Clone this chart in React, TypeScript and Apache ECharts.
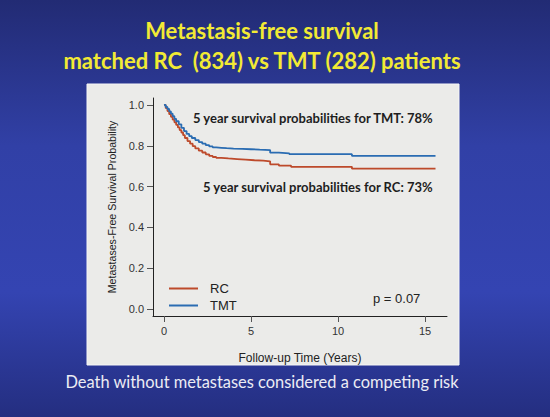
import React, { useEffect, useRef } from "react";
import * as echarts from "echarts";

const titleLines = ["Metastasis-free survival", "matched RC  (834) vs TMT (282) patients"];
const subtitle = "Death without metastases considered a competing risk";
const seriesNames = ["RC", "TMT"];
const xTicks = [0, 5, 10, 15];
const yTicks = [0, 0.2, 0.4, 0.6, 0.8, 1.0];

const tmtTimes = [0, 0.1, 0.2, 0.3, 0.4, 0.5, 0.6, 0.7, 0.85, 1.0, 1.15, 1.3, 1.45, 1.6, 1.8, 2.0, 2.2, 2.4, 2.6, 2.8, 3.0, 3.3, 3.6, 4.0, 4.5, 5.0, 5.5, 6.1, 6.6, 7.2, 10.8, 15.6];
const tmtSurv = [1.0, 0.99, 0.98, 0.968, 0.957, 0.945, 0.932, 0.92, 0.905, 0.888, 0.872, 0.858, 0.847, 0.838, 0.828, 0.818, 0.81, 0.803, 0.797, 0.792, 0.79, 0.788, 0.786, 0.785, 0.783, 0.781, 0.779, 0.766, 0.763, 0.759, 0.75, 0.75];

const rcTimes = [0, 0.1, 0.2, 0.3, 0.4, 0.5, 0.6, 0.7, 0.8, 0.9, 1.0, 1.1, 1.2, 1.35, 1.5, 1.65, 1.8, 2.0, 2.2, 2.4, 2.6, 2.8, 3.0, 3.3, 3.7, 4.2, 4.7, 5.2, 5.7, 6.1, 6.6, 7.3, 10.8, 15.6];
const rcSurv = [1.0, 0.985, 0.97, 0.955, 0.942, 0.928, 0.915, 0.902, 0.89, 0.877, 0.865, 0.852, 0.838, 0.823, 0.81, 0.798, 0.787, 0.776, 0.767, 0.758, 0.75, 0.745, 0.741, 0.738, 0.735, 0.732, 0.729, 0.727, 0.724, 0.709, 0.703, 0.697, 0.688, 0.688];

const annotations = [
  "5 year survival probabilities for TMT: 78%",
  "5 year survival probabilities for RC: 73%",
  "p = 0.07",
];

export default function App() {
  const ref = useRef<HTMLDivElement>(null);
  useEffect(() => {
    document.body.style.margin = "0";
    const chart = echarts.init(ref.current!, null, { renderer: "svg" });
    const rc = rcTimes.map((t, i) => [t, rcSurv[i]]);
    const tmt = tmtTimes.map((t, i) => [t, tmtSurv[i]]);
    const calibri = "Lato, 'Open Sans', sans-serif";
    const arial = "'Liberation Sans', Arial, sans-serif";
    chart.setOption({
      animation: false,
      backgroundColor: {
        type: "linear", x: 0, y: 0, x2: 0, y2: 1,
        colorStops: [
          { offset: 0, color: "#222b74" },
          { offset: 0.35, color: "#3140a6" },
          { offset: 0.7, color: "#3444b2" },
          { offset: 1, color: "#242e80" },
        ],
      },
      graphic: [
        { type: "rect", shape: { x: 87, y: 84, width: 372, height: 281 }, style: { fill: "#ebebe9", stroke: "#f6f6f6", lineWidth: 1 }, z: -10 },
        { type: "text", x: 262, y: 30, style: { text: titleLines[0], fill: "#f2ea34", font: `bold 22px ${calibri}`, align: "center", verticalAlign: "middle", textShadowColor: "rgba(0,0,0,0.5)", textShadowOffsetX: 1, textShadowOffsetY: 1 } },
        { type: "text", x: 262, y: 60, style: { text: titleLines[1], fill: "#f2ea34", font: `bold 22px ${calibri}`, align: "center", verticalAlign: "middle", textShadowColor: "rgba(0,0,0,0.5)", textShadowOffsetX: 1, textShadowOffsetY: 1 } },
        { type: "text", x: 262, y: 381, style: { text: subtitle, fill: "#ececf4", font: `16.4px ${calibri}`, align: "center", verticalAlign: "middle" } },
        { type: "text", x: 193, y: 118, style: { text: annotations[0], fill: "#1e1e1e", font: `bold 13px ${calibri}`, align: "left", verticalAlign: "middle" } },
        { type: "text", x: 203, y: 187, style: { text: annotations[1], fill: "#1e1e1e", font: `bold 13px ${calibri}`, align: "left", verticalAlign: "middle" } },
        { type: "text", x: 373, y: 298, style: { text: annotations[2], fill: "#222", font: `13px ${arial}`, align: "left", verticalAlign: "middle" } },
      ],
      legend: {
        orient: "vertical",
        left: 164,
        top: 277,
        itemGap: 4,
        itemWidth: 29,
        itemHeight: 2,
        icon: "rect",
        data: seriesNames,
        textStyle: { color: "#222", fontSize: 13, fontFamily: arial, padding: [0, 0, 0, 7] },
      },
      grid: { left: 153, right: 103, top: 98, bottom: 101, containLabel: false },
      xAxis: {
        type: "value",
        min: -0.63,
        max: 16.26,
        splitLine: { show: false },
        axisLine: { onZero: false, lineStyle: { color: "#222", width: 1 } },
        axisTick: { customValues: xTicks, length: 6, lineStyle: { color: "#555" } },
        axisLabel: { customValues: xTicks, color: "#333", fontSize: 11, fontFamily: arial, margin: 9 },
        name: "Follow-up Time (Years)",
        nameLocation: "middle",
        nameGap: 36,
        nameTextStyle: { color: "#222", fontSize: 12, fontFamily: arial },
      },
      yAxis: {
        type: "value",
        min: -0.034,
        max: 1.034,
        splitLine: { show: false },
        axisLine: { show: true, onZero: false, lineStyle: { color: "#222", width: 1 } },
        axisTick: { show: true, customValues: yTicks, length: 6, lineStyle: { color: "#555" } },
        axisLabel: { customValues: yTicks, color: "#333", fontSize: 11, fontFamily: arial, margin: 9, formatter: (v: number) => v.toFixed(1) },
        name: "Metastases-Free Survival Probability",
        nameLocation: "middle",
        nameGap: 36,
        nameTextStyle: { color: "#222", fontSize: 10.6, fontFamily: arial },
      },
      series: [
        { name: seriesNames[0], type: "line", step: "end", data: rc, showSymbol: false, lineStyle: { color: "#bd4a2b", width: 1.8 }, itemStyle: { color: "#bd4a2b" } },
        { name: seriesNames[1], type: "line", step: "end", data: tmt, showSymbol: false, lineStyle: { color: "#2a6cb2", width: 1.8 }, itemStyle: { color: "#2a6cb2" } },
      ],
    });
    return () => chart.dispose();
  }, []);
  return <div ref={ref} style={{ width: 550, height: 417 }} />;
}
